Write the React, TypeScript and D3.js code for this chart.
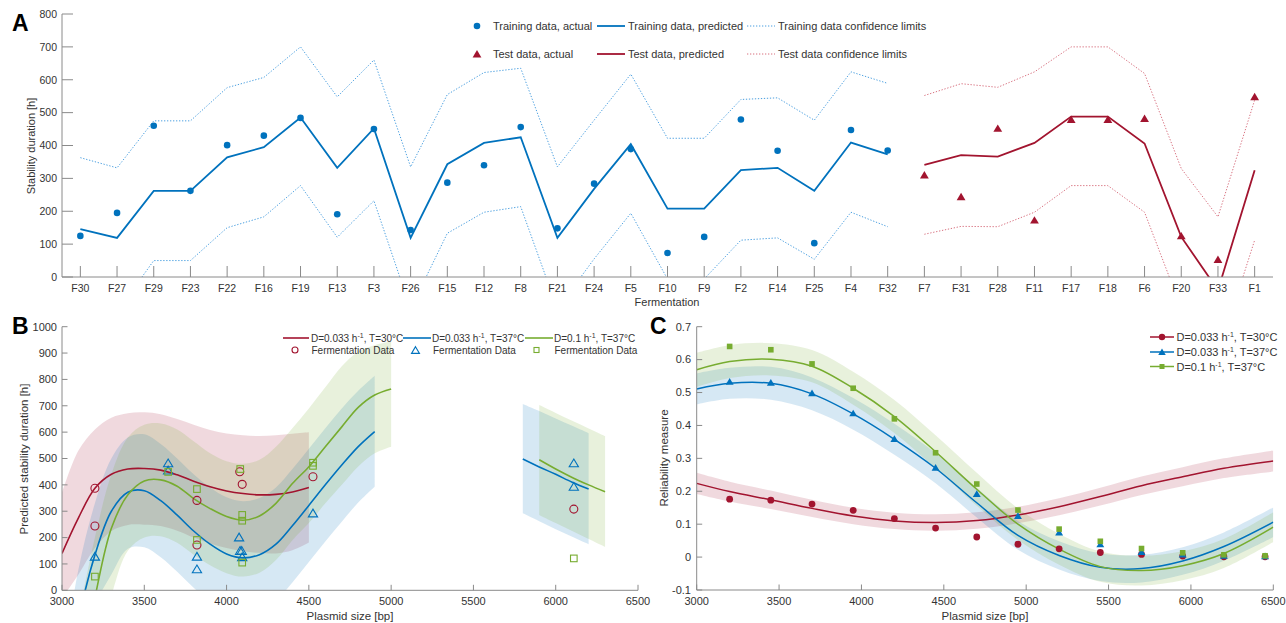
import React from 'react';
import * as d3 from 'd3';

// ---------- Panel A data ----------
const trainCategories = ['F30','F27','F29','F23','F22','F16','F19','F13','F3','F26','F15','F12','F8','F21','F24','F5','F10','F9','F2','F14','F25','F4','F32'];
const testCategories = ['F7','F31','F28','F11','F17','F18','F6','F20','F33','F1'];
const trainActual = [125,195,460,262,401,430,484,191,450,143,287,340,456,148,284,389,73,122,479,384,103,447,385];
const trainPred = [146,119,262,262,364,395,485,332,452,119,343,408,425,119,268,404,208,208,325,332,262,409,373];
const trainUpper = [363,332,475,475,576,607,700,548,660,335,555,622,635,335,477,617,422,422,540,545,477,624,589];
const trainLower = [-71,-106,50,50,150,183,278,121,232,-97,133,197,214,-97,55,194,-6,-6,112,119,54,197,153];
const testActual = [310,244,452,173,479,479,482,125,53,548];
const testPred = [341,371,366,408,488,488,406,122,-40,325];
const testUpper = [552,588,577,624,700,700,619,330,183,538];
const testLower = [130,154,153,197,278,278,197,-95,-238,112];
const yTicksA = [0,100,200,300,400,500,600,700,800];

// ---------- Panel B data ----------
const bRedX = [3000,3100,3200,3300,3400,3500,3600,3700,3800,3900,4000,4100,4200,4300,4400,4500];
const bRedPred = [140,275,387,440,460,462,456,438,414,393,377,367,362,364,373,390];
const bRedUpper = [370,530,610,655,672,675,668,650,628,608,595,588,585,588,594,600];
const bRedLower = [-30,60,160,225,248,249,244,226,200,178,160,148,142,140,152,181];

const bBlueX = [3000,3100,3200,3300,3400,3500,3600,3700,3800,3900,4000,4100,4200,4300,4400,4500,4600,4700,4800,4900];
const bBluePred = [-500,-115,134,300,372,378,340,285,225,175,138,123,135,175,245,322,400,475,545,602];
const bBlueUpper = [-300,80,330,500,580,592,555,500,440,390,353,338,350,390,460,537,615,690,757,814];
const bBlueLower = [-800,-330,-60,60,158,163,125,70,10,-40,-77,-92,-80,-40,30,107,185,260,333,393];

const bGreenX = [3100,3200,3300,3400,3500,3600,3700,3800,3900,4000,4100,4200,4300,4400,4500,4600,4700,4800,4900,5000];
const bGreenPred = [-350,-28,235,362,415,419,395,348,310,280,266,282,330,405,469,545,620,694,741,764];
const bGreenUpper = [-100,200,440,580,628,633,610,565,520,490,480,495,545,615,690,770,850,905,930,945];
const bGreenLower = [-600,-250,-20,150,200,205,180,135,95,65,52,67,115,190,255,330,400,470,520,545];

const bBlueRX = [5800,5900,6000,6100,6200];
const bBlueRPred = [498,468,440,410,384];
const bBlueRUpper = [707,680,652,624,596];
const bBlueRLower = [292,262,232,203,175];
const bGreenRX = [5900,6000,6100,6200,6300];
const bGreenRPred = [495,460,428,400,374];
const bGreenRUpper = [703,673,643,614,585];
const bGreenRLower = [286,255,225,195,165];

const bRedPtsX = [3200,3200,3820,3820,4080,4095,4525,6110];
const bRedPtsY = [387,244,341,172,450,402,431,308];
const bBluePtsX = [3200,3645,3645,3820,3820,4076,4082,4092,4095,4525,6110,6110];
const bBluePtsY = [128,482,455,128,80,201,150,150,126,292,482,393];
const bGreenPtsX = [3200,3645,3820,3820,4083,4095,4095,4095,4525,4525,6110];
const bGreenPtsY = [52,449,384,191,460,286,264,105,484,472,121];

const xTicksBC = [3000,3500,4000,4500,5000,5500,6000,6500];
const yTicksB = [0,100,200,300,400,500,600,700,800,900,1000];

// ---------- Panel C data ----------
const cCurveX = [3000,3200,3450,3700,3950,4200,4450,4700,4950,5200,5450,5700,5950,6200,6500];
const cRedCurve = [0.224,0.199,0.174,0.148,0.125,0.110,0.105,0.111,0.128,0.153,0.184,0.217,0.244,0.270,0.292];
const cBlueCurve = [0.511,0.528,0.528,0.496,0.435,0.358,0.270,0.165,0.066,0.005,-0.031,-0.035,-0.012,0.032,0.106];
const cGreenCurve = [0.569,0.594,0.601,0.580,0.513,0.427,0.320,0.206,0.100,0.024,-0.029,-0.041,-0.026,0.011,0.091];
const cRedHalf = [0.032,0.030,0.028,0.026,0.025,0.025,0.025,0.025,0.025,0.026,0.027,0.028,0.029,0.030,0.032];
const cBlueHalf = [0.047,0.047,0.050,0.050,0.048,0.047,0.046,0.045,0.044,0.043,0.042,0.042,0.042,0.043,0.045];
const cGreenHalf = [0.052,0.050,0.049,0.049,0.050,0.050,0.050,0.050,0.048,0.047,0.046,0.045,0.044,0.044,0.045];

const cPtsX = [3200,3450,3700,3950,4200,4450,4700,4950,5200,5450,5700,5950,6200,6450];
const cRedPts = [0.176,0.173,0.161,0.142,0.117,0.088,0.061,0.039,0.025,0.014,0.008,0.003,0.001,0.001];
const cBluePts = [0.533,0.530,0.498,0.437,0.359,0.272,0.192,0.125,0.075,0.039,0.016,0.008,0.004,0.003];
const cGreenPts = [0.640,0.630,0.587,0.513,0.420,0.317,0.222,0.143,0.085,0.048,0.026,0.013,0.007,0.004];
const yTicksC = [-0.1,0,0.1,0.2,0.3,0.4,0.5,0.6,0.7];

const BLUE = '#0072BD';
const RED = '#A2142F';
const GREEN = '#77AC30';
const AXIS = '#8a8a8a';
const TXT = '#333333';
const FONT = '"Liberation Sans", Arial, Helvetica, sans-serif';

type Pt = [number, number];
const SMOOTH = d3.curveCatmullRom.alpha(0.5);

function triPath(x: number, y: number, s: number) {
  return `M${x},${y - s}L${x + s * 1.1},${y + s * 0.85}L${x - s * 1.1},${y + s * 0.85}Z`;
}

function Sup({ pre, post }: { pre: string; post: string }) {
  return (
    <>
      {pre}
      <tspan fontSize="7" dy="-4">-1</tspan>
      <tspan dy="4">{post}</tspan>
    </>
  );
}

export default function App() {
  // Panel A
  const xA = d3.scaleLinear().domain([0.5, 33.5]).range([62, 1273]);
  const yA = d3.scaleLinear().domain([0, 800]).range([277, 14]);
  const allCats = [...trainCategories, ...testCategories];
  const lineA = (vals: number[], off: number) =>
    d3.line<number>().x((_, i) => xA(i + 1 + off)).y(d => yA(d))(vals) || '';

  // Panel B
  const xB = d3.scaleLinear().domain([3000, 6500]).range([62, 638]);
  const yB = d3.scaleLinear().domain([0, 1000]).range([590.3, 326.7]);
  const curveB = (xs: number[], ys: number[]) =>
    d3.line<Pt>().x(d => xB(d[0])).y(d => yB(d[1])).curve(SMOOTH)(xs.map((x, i) => [x, ys[i]] as Pt)) || '';
  const areaB = (xs: number[], lo: number[], hi: number[]) =>
    d3.area<number>().x(d => xB(d)).y0((_, i) => yB(lo[i])).y1((_, i) => yB(hi[i])).curve(SMOOTH)(xs) || '';

  // Panel C
  const xC = d3.scaleLinear().domain([3000, 6500]).range([696.7, 1273.3]);
  const yC = d3.scaleLinear().domain([-0.1, 0.7]).range([590, 326.7]);
  const curveC = (ys: number[]) =>
    d3.line<number>().x((_, i) => xC(cCurveX[i])).y(d => yC(d)).curve(SMOOTH)(ys) || '';
  const areaC = (ys: number[], half: number[]) =>
    d3.area<number>().x((_, i) => xC(cCurveX[i])).y0((d, i) => yC(d - half[i])).y1((d, i) => yC(d + half[i])).curve(SMOOTH)(ys) || '';

  const tickA = 11;
  const tickB = 5.5;

  return (
    <svg width={1286} height={623} style={{ position: 'absolute', left: 0, top: 0, background: '#fff' }} fontFamily={FONT}>
      <defs>
        <clipPath id="clipA"><rect x={62} y={14} width={1211} height={263} /></clipPath>
        <clipPath id="clipB"><rect x={62} y={326.7} width={576} height={263.6} /></clipPath>
        <clipPath id="clipC"><rect x={696.7} y={326.7} width={576.6} height={263.3} /></clipPath>
      </defs>

      {/* ================= Panel A ================= */}
      <text x={12} y={31} fontSize={23} fontWeight="bold" fill="#000">A</text>
      <g clipPath="url(#clipA)">
        <path d={lineA(trainUpper, 0)} fill="none" stroke="#4a9fe0" strokeWidth={1} strokeDasharray="1.3 1.7" />
        <path d={lineA(trainLower, 0)} fill="none" stroke="#4a9fe0" strokeWidth={1} strokeDasharray="1.3 1.7" />
        <path d={lineA(testUpper, 23)} fill="none" stroke="#d8717f" strokeWidth={1} strokeDasharray="1.3 1.7" />
        <path d={lineA(testLower, 23)} fill="none" stroke="#d8717f" strokeWidth={1} strokeDasharray="1.3 1.7" />
        <path d={lineA(trainPred, 0)} fill="none" stroke={BLUE} strokeWidth={1.8} />
        <path d={lineA(testPred, 23)} fill="none" stroke={RED} strokeWidth={1.8} />
      </g>
      {trainActual.map((v, i) => (
        <circle key={'ta' + i} cx={xA(i + 1)} cy={yA(v)} r={3.3} fill={BLUE} />
      ))}
      {testActual.map((v, i) => (
        <path key={'te' + i} d={triPath(xA(i + 24), yA(v), 4)} fill={RED} />
      ))}
      {/* axes A */}
      <line x1={62} x2={62} y1={14} y2={277} stroke={AXIS} strokeWidth={1} />
      <line x1={62} x2={1273} y1={277} y2={277} stroke={AXIS} strokeWidth={1} />
      {yTicksA.map(t => (
        <g key={'yta' + t}>
          <line x1={62} x2={62 + tickA} y1={yA(t)} y2={yA(t)} stroke={AXIS} />
          <text x={57} y={yA(t) + 3.8} fontSize={10.5} fill={TXT} textAnchor="end">{t}</text>
        </g>
      ))}
      {allCats.map((c, i) => (
        <g key={'xta' + c}>
          <line x1={xA(i + 1)} x2={xA(i + 1)} y1={277} y2={277 - tickA} stroke={AXIS} />
          <text x={xA(i + 1)} y={292} fontSize={10.5} fill={TXT} textAnchor="middle">{c}</text>
        </g>
      ))}
      <text x={667} y={306} fontSize={11} fill={TXT} textAnchor="middle">Fermentation</text>
      <text transform="translate(35,146) rotate(-90)" fontSize={11} fill={TXT} textAnchor="middle">Stability duration [h]</text>
      {/* legend A */}
      <circle cx={477} cy={26} r={3.3} fill={BLUE} />
      <text x={493} y={30} fontSize={11} fill={TXT}>Training data, actual</text>
      <line x1={597} x2={625} y1={26} y2={26} stroke={BLUE} strokeWidth={1.8} />
      <text x={628} y={30} fontSize={11} fill={TXT}>Training data, predicted</text>
      <line x1={747} x2={775} y1={26} y2={26} stroke="#4a9fe0" strokeWidth={1} strokeDasharray="1.3 1.7" />
      <text x={778} y={30} fontSize={11} fill={TXT}>Training data confidence limits</text>
      <path d={triPath(477, 54, 4)} fill={RED} />
      <text x={493} y={58} fontSize={11} fill={TXT}>Test data, actual</text>
      <line x1={597} x2={625} y1={54} y2={54} stroke={RED} strokeWidth={1.8} />
      <text x={628} y={58} fontSize={11} fill={TXT}>Test data, predicted</text>
      <line x1={747} x2={775} y1={54} y2={54} stroke="#d8717f" strokeWidth={1} strokeDasharray="1.3 1.7" />
      <text x={778} y={58} fontSize={11} fill={TXT}>Test data confidence limits</text>

      {/* ================= Panel B ================= */}
      <text x={12} y={334} fontSize={23} fontWeight="bold" fill="#000">B</text>
      <g clipPath="url(#clipB)">
        <path d={areaB(bRedX, bRedLower, bRedUpper)} fill={RED} fillOpacity={0.16} />
        <path d={areaB(bBlueX, bBlueLower, bBlueUpper)} fill={BLUE} fillOpacity={0.16} />
        <path d={areaB(bGreenX, bGreenLower, bGreenUpper)} fill={GREEN} fillOpacity={0.17} />
        <path d={areaB(bBlueRX, bBlueRLower, bBlueRUpper)} fill={BLUE} fillOpacity={0.16} />
        <path d={areaB(bGreenRX, bGreenRLower, bGreenRUpper)} fill={GREEN} fillOpacity={0.17} />
        <path d={curveB(bRedX, bRedPred)} fill="none" stroke={RED} strokeWidth={1.6} />
        <path d={curveB(bBlueX, bBluePred)} fill="none" stroke={BLUE} strokeWidth={1.6} />
        <path d={curveB(bGreenX, bGreenPred)} fill="none" stroke={GREEN} strokeWidth={1.6} />
        <path d={curveB(bBlueRX, bBlueRPred)} fill="none" stroke={BLUE} strokeWidth={1.6} />
        <path d={curveB(bGreenRX, bGreenRPred)} fill="none" stroke={GREEN} strokeWidth={1.6} />
      </g>
      {bRedPtsX.map((x, i) => (
        <circle key={'br' + i} cx={xB(x)} cy={yB(bRedPtsY[i])} r={4} fill="none" stroke={RED} strokeWidth={1.1} />
      ))}
      {bBluePtsX.map((x, i) => (
        <path key={'bb' + i} d={triPath(xB(x), yB(bBluePtsY[i]), 4.2)} fill="none" stroke={BLUE} strokeWidth={1.1} />
      ))}
      {bGreenPtsX.map((x, i) => (
        <rect key={'bg' + i} x={xB(x) - 3.3} y={yB(bGreenPtsY[i]) - 3.3} width={6.6} height={6.6} fill="none" stroke={GREEN} strokeWidth={1.1} />
      ))}
      <line x1={62} x2={62} y1={326.7} y2={590.3} stroke={AXIS} />
      <line x1={62} x2={638} y1={590.3} y2={590.3} stroke={AXIS} />
      {yTicksB.map(t => (
        <g key={'ytb' + t}>
          <line x1={62} x2={62 + tickB} y1={yB(t)} y2={yB(t)} stroke={AXIS} />
          <text x={57} y={yB(t) + 3.8} fontSize={11} fill={TXT} textAnchor="end">{t}</text>
        </g>
      ))}
      {xTicksBC.map(t => (
        <g key={'xtb' + t}>
          <line x1={xB(t)} x2={xB(t)} y1={590.3} y2={590.3 - tickB} stroke={AXIS} />
          <text x={xB(t)} y={605} fontSize={11} fill={TXT} textAnchor="middle">{t}</text>
        </g>
      ))}
      <text x={350} y={620} fontSize={11.5} fill={TXT} textAnchor="middle">Plasmid size [bp]</text>
      <text transform="translate(28,459) rotate(-90)" fontSize={11.5} fill={TXT} textAnchor="middle">Predicted stability duration [h]</text>
      {/* legend B */}
      <line x1={283} x2={309} y1={338} y2={338} stroke={RED} strokeWidth={1.6} />
      <text x={311} y={341.5} fontSize={10} fill={TXT}><Sup pre="D=0.033 h" post=", T=30°C" /></text>
      <line x1={403} x2={431} y1={338} y2={338} stroke={BLUE} strokeWidth={1.6} />
      <text x={432} y={341.5} fontSize={10} fill={TXT}><Sup pre="D=0.033 h" post=", T=37°C" /></text>
      <line x1={525} x2={553} y1={338} y2={338} stroke={GREEN} strokeWidth={1.6} />
      <text x={554} y={341.5} fontSize={10} fill={TXT}><Sup pre="D=0.1 h" post=", T=37°C" /></text>
      <circle cx={295} cy={350} r={3} fill="none" stroke={RED} strokeWidth={1.1} />
      <text x={311.5} y={353.5} fontSize={10} fill={TXT}>Fermentation Data</text>
      <path d={triPath(415.5, 350.3, 3.6)} fill="none" stroke={BLUE} strokeWidth={1.1} />
      <text x={433} y={353.5} fontSize={10} fill={TXT}>Fermentation Data</text>
      <rect x={534} y={347.5} width={5} height={5} fill="none" stroke={GREEN} strokeWidth={1.1} />
      <text x={554.5} y={353.5} fontSize={10} fill={TXT}>Fermentation Data</text>

      {/* ================= Panel C ================= */}
      <text x={650} y={334} fontSize={23} fontWeight="bold" fill="#000">C</text>
      <g clipPath="url(#clipC)">
        <path d={areaC(cRedCurve, cRedHalf)} fill={RED} fillOpacity={0.16} />
        <path d={areaC(cBlueCurve, cBlueHalf)} fill={BLUE} fillOpacity={0.16} />
        <path d={areaC(cGreenCurve, cGreenHalf)} fill={GREEN} fillOpacity={0.17} />
        <path d={curveC(cRedCurve)} fill="none" stroke={RED} strokeWidth={1.5} />
        <path d={curveC(cBlueCurve)} fill="none" stroke={BLUE} strokeWidth={1.5} />
        <path d={curveC(cGreenCurve)} fill="none" stroke={GREEN} strokeWidth={1.5} />
      </g>
      {cPtsX.map((x, i) => (
        <circle key={'cr' + i} cx={xC(x)} cy={yC(cRedPts[i])} r={3.4} fill={RED} />
      ))}
      {cPtsX.map((x, i) => (
        <path key={'cb' + i} d={triPath(xC(x), yC(cBluePts[i]), 3.6)} fill={BLUE} />
      ))}
      {cPtsX.map((x, i) => (
        <rect key={'cg' + i} x={xC(x) - 2.8} y={yC(cGreenPts[i]) - 2.8} width={5.6} height={5.6} fill={GREEN} />
      ))}
      <line x1={696.7} x2={696.7} y1={326.7} y2={590} stroke={AXIS} />
      <line x1={696.7} x2={1273.3} y1={590} y2={590} stroke={AXIS} />
      {yTicksC.map(t => (
        <g key={'ytc' + t}>
          <line x1={696.7} x2={696.7 + tickB} y1={yC(t)} y2={yC(t)} stroke={AXIS} />
          <text x={691} y={yC(t) + 3.8} fontSize={11} fill={TXT} textAnchor="end">{String(Math.round(t * 10) / 10)}</text>
        </g>
      ))}
      {xTicksBC.map(t => (
        <g key={'xtc' + t}>
          <line x1={xC(t)} x2={xC(t)} y1={590} y2={590 - tickB} stroke={AXIS} />
          <text x={xC(t)} y={605} fontSize={11} fill={TXT} textAnchor="middle">{t}</text>
        </g>
      ))}
      <text x={985} y={620} fontSize={11.5} fill={TXT} textAnchor="middle">Plasmid size [bp]</text>
      <text transform="translate(668,458) rotate(-90)" fontSize={11.5} fill={TXT} textAnchor="middle">Reliability measure</text>
      {/* legend C */}
      <line x1={1150} x2={1174} y1={337} y2={337} stroke={RED} strokeWidth={1.5} />
      <circle cx={1162} cy={337} r={3.2} fill={RED} />
      <text x={1176.5} y={341} fontSize={11} fill={TXT}><Sup pre="D=0.033 h" post=", T=30°C" /></text>
      <line x1={1150} x2={1174} y1={352} y2={352} stroke={BLUE} strokeWidth={1.5} />
      <path d={triPath(1162, 352, 3.4)} fill={BLUE} />
      <text x={1176.5} y={356} fontSize={11} fill={TXT}><Sup pre="D=0.033 h" post=", T=37°C" /></text>
      <line x1={1150} x2={1174} y1={366.5} y2={366.5} stroke={GREEN} strokeWidth={1.5} />
      <rect x={1159.5} y={364} width={5} height={5} fill={GREEN} />
      <text x={1176.5} y={370.5} fontSize={11} fill={TXT}><Sup pre="D=0.1 h" post=", T=37°C" /></text>
    </svg>
  );
}
